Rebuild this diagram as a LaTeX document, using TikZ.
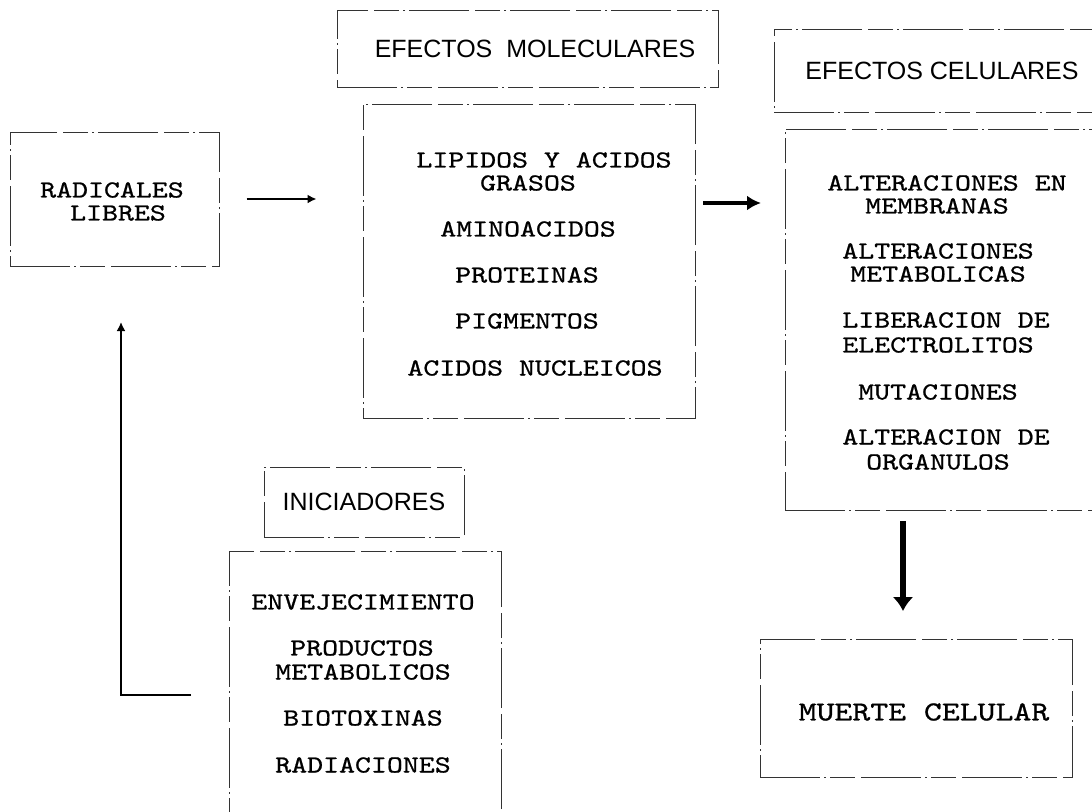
\documentclass[tikz,border=0pt]{standalone}
\usepackage{fontspec}
\newfontfamily\fuentemaq[FakeStretch=1.24, FakeBold=0.8]{lmmono10-regular.otf}
\newfontfamily\fuentetit{Liberation Sans}
\usetikzlibrary{arrows.meta, fit}

\begin{document}
\begin{tikzpicture}[x=1pt, y=-1pt,
    caja/.style={draw=black!80, line width=1pt, dash pattern=on 60pt off 4pt on 2pt off 4pt on 25pt off 6pt, inner sep=0pt},
    rotulo/.style={font=\fuentetit\fontsize{25}{28}\selectfont, inner sep=0pt},
    texto/.style={font=\fuentemaq\fontsize{24.5}{23}\selectfont, inner sep=0pt},
    flecha/.style={line width=2.2pt, -{Latex[length=9pt, width=9pt]}},
    flechamedia/.style={line width=4pt, -{Latex[length=14pt, width=15pt]}},
    flechabaja/.style={line width=6pt, -{Latex[length=14pt, width=21pt]}}]

        \useasboundingbox (0,0) rectangle (1092,811);
        \clip (0,0) rectangle (1092,811);

        %%EFECTOS MOLECULARES
        \node[caja, fit={(337,10) (718,87)}] (molcab) {};
        \node[rotulo] (moltit) at (535,49) {EFECTOS\ \ MOLECULARES};

        %%EFECTOS CELULARES
        \node[caja, fit={(774,29) (1130,112)}] (celcab) {};
        \node[rotulo] (celtit) at (942,71) {EFECTOS CELULARES};

        %%RADICALES
        \node[caja, fit={(10,132) (219,266)}] (rad) {};
        \node[texto] (rad1) at (112,190) {RADICALES};
        \node[texto] (rad2) at (118,213) {LIBRES};

        %%M1
        \node[caja, fit={(363,104) (695,418)}] (mol) {};
        \node[texto] (mol1) at (544,160) {LIPIDOS Y ACIDOS};
        \node[texto] (mol2) at (528,183) {GRASOS};
        \node[texto] (mol3) at (528,229) {AMINOACIDOS};
        \node[texto] (mol4) at (527,275) {PROTEINAS};
        \node[texto] (mol5) at (527,321) {PIGMENTOS};
        \node[texto] (mol6) at (535,368) {ACIDOS NUCLEICOS};

        %%C1
        \node[caja, fit={(785,129) (1130,510)}] (cel) {};
        \node[texto] (cel1) at (947,183) {ALTERACIONES EN};
        \node[texto] (cel2) at (937,206) {MEMBRANAS};
        \node[texto] (cel3) at (938,251) {ALTERACIONES};
        \node[texto] (cel4) at (938,274) {METABOLICAS};
        \node[texto] (cel5) at (946,320) {LIBERACION DE};
        \node[texto] (cel6) at (938,345) {ELECTROLITOS};
        \node[texto] (cel7) at (938,392) {MUTACIONES};
        \node[texto] (cel8) at (946,437) {ALTERACION DE};
        \node[texto] (cel9) at (938,462) {ORGANULOS};

        %%MUERTE
        \node[caja, fit={(760,639) (1072,777)}] (muerte) {};
        \node[texto, font=\fuentemaq\fontsize{27.5}{30}\selectfont] (muertet) at (924,712) {MUERTE CELULAR};

        %%INICIADORES
        \node[caja, fit={(264,467) (464,537)}] (inicab) {};
        \node[rotulo] (initit) at (364,502) {INICIADORES};

        %%I1
        \node[caja, fit={(229,551) (501,840)}] (ini) {};
        \node[texto] (ini1) at (363,602) {ENVEJECIMIENTO};
        \node[texto] (ini2) at (362,648) {PRODUCTOS};
        \node[texto] (ini3) at (363,672) {METABOLICOS};
        \node[texto] (ini4) at (363,718) {BIOTOXINAS};
        \node[texto] (ini5) at (363,765) {RADIACIONES};

        %%flechas
        \coordinate (m2) at (703,203);
        \coordinate (c2) at (761,203);
        \coordinate (d1) at (903,521);
        \coordinate (d2) at (903,611);
        \coordinate (r0) at (191,695);
        \coordinate (r1) at (121,322);
            \draw[flecha]([xshift=27pt]rad.east) to ([xshift=-46pt]rad.east -| mol.west);
            \draw[flechamedia](m2) to (c2);
            \draw[flechabaja](d1) to (d2);
            \draw[flecha](r0) -| (r1);

    \end{tikzpicture}
\end{document}
